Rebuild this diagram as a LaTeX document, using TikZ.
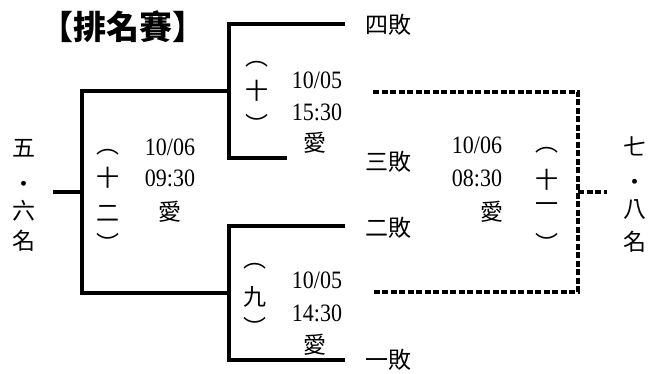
\documentclass[tikz,border=0pt]{standalone}
\usepackage{fontspec}
\newfontfamily\cjk{Noto Sans CJK TC}
\newfontfamily\num{Liberation Serif}[FakeStretch=0.88]
\begin{document}
\begin{tikzpicture}[x=1pt,y=-1pt,
  solidline/.style={line width=3.3pt},
  dashline/.style={line width=3.3pt,dash pattern=on 6pt off 2.5pt},
  ch/.style={inner sep=0pt,font=\cjk\fontsize{23}{23}\selectfont},
  nm/.style={inner sep=0pt,font=\num\fontsize{25}{25}\selectfont},
  ttl/.style={inner sep=0pt,font=\cjk\bfseries\fontsize{33}{33}\selectfont}]
\useasboundingbox (0,0) rectangle (654,374);
% title
\node[ttl] (title) at (123,27) {【排名賽】};
% coordinates of the bracket
\coordinate (ut) at (345,24);
\coordinate (ub) at (287,158);
\coordinate (uc) at (229,91);
\coordinate (dt) at (345,226);
\coordinate (db) at (345,360);
\coordinate (dc) at (229,293);
\coordinate (lc) at (82,192);
\coordinate (lend) at (53,192);
\coordinate (rt) at (373,92);
\coordinate (rb) at (373,292);
\coordinate (rc) at (578,192);
\coordinate (rend) at (607,192);
% solid brackets
\draw[solidline] (ut) -| (uc) |- (ub);
\draw[solidline] (dt) -| (dc) |- (db);
\draw[solidline] (uc) -| (lc) |- (dc);
\draw[solidline] (lc) -- (lend);
% dashed bracket
\draw[dashline] (rt) -| (rc) |- (rb);
\draw[dashline] (rc) -- (rend);
% seeds
\node[ch] (s4) at (388,25) {四敗};
\node[ch] (s3) at (388,162) {三敗};
\node[ch] (s2) at (388,228) {二敗};
\node[ch] (s1) at (388,360) {一敗};
% left label
\node[ch] (l1) at (24,148) {五};
\node[ch] (l2) at (24,187) {·};
\node[ch] (l3) at (24,211) {六};
\node[ch] (l4) at (24,241) {名};
% right label
\node[ch] (r1) at (635,146) {七};
\node[ch] (r2) at (635,185) {·};
\node[ch] (r3) at (635,210) {八};
\node[ch] (r4) at (635,242) {名};
% game 10
\node[ch] (a1) at (257,64) {︵};
\node[ch] (a2) at (257,91) {十};
\node[ch] (a3) at (257,124) {︶};
\node[nm] (a4) at (317,80) {10/05};
\node[nm] (a5) at (317,112) {15:30};
\node[ch] (a6) at (315,143) {愛};
% game 9
\node[ch] (b1) at (255,266) {︵};
\node[ch] (b2) at (255,297) {九};
\node[ch] (b3) at (255,327) {︶};
\node[nm] (b4) at (317,280) {10/05};
\node[nm] (b5) at (317,313) {14:30};
\node[ch] (b6) at (315,345) {愛};
% game 12
\node[ch] (c1) at (108,152) {︵};
\node[ch] (c2) at (108,178) {十};
\node[ch] (c3) at (108,213) {二};
\node[ch] (c4) at (108,243) {︶};
\node[nm] (c5) at (170,147) {10/06};
\node[nm] (c6) at (170,178) {09:30};
\node[ch] (c7) at (170,212) {愛};
% game 11
\node[ch] (d1) at (547,150) {︵};
\node[ch] (d2) at (547,180) {十};
\node[ch] (d3) at (547,208) {一};
\node[ch] (d4) at (547,243) {︶};
\node[nm] (d5) at (477,145) {10/06};
\node[nm] (d6) at (477,178) {08:30};
\node[ch] (d7) at (492,212) {愛};
\end{tikzpicture}
\end{document}
